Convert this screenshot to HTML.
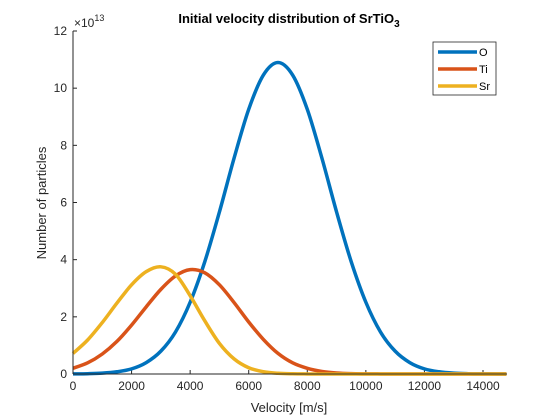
<!DOCTYPE html>
<html><head><meta charset="utf-8"><style>
html,body{margin:0;padding:0;background:#fff;}
svg{display:block;font-family:"Liberation Sans",Arial,sans-serif;}
</style></head><body>
<svg id="chart" width="560" height="420" viewBox="0 0 560 420" xmlns="http://www.w3.org/2000/svg">
<rect width="560" height="420" fill="#fff"/>
<text x="289" y="23" text-anchor="middle" font-size="13" font-weight="bold" fill="#000">Initial velocity distribution of SrTiO<tspan font-size="10" dy="4">3</tspan></text>
<g id="xticks"></g><g id="yticks"></g>
<g id="series"></g>
<line x1="73" y1="374" x2="507" y2="374" stroke="#262626" stroke-width="1"/>
<line x1="73" y1="31" x2="73" y2="374" stroke="#262626" stroke-width="1"/>
<text x="74" y="27" font-size="12" fill="#262626">×10<tspan font-size="9" dy="-6">13</tspan></text>
<text x="289" y="412" text-anchor="middle" font-size="13" fill="#262626">Velocity [m/s]</text>
<text transform="translate(46,203) rotate(-90)" text-anchor="middle" font-size="13" fill="#262626">Number of particles</text>
<g id="legend">
<rect x="433" y="42" width="63" height="53" fill="#fff" stroke="#262626" stroke-width="0.8"/>
</g>
</svg>
<script>
const xs=[0,500,1000,1500,2000,2500,3000,3500,4000,4500,5000,5500,6000,6500,7000,7500,8000,8500,9000,9500,10000,10500,11000,11500,12000,12500,13000,13500,14000,14500,14800];
const oVals=[0.004,0.011,0.03,0.078,0.18,0.40,0.80,1.47,2.51,3.93,5.67,7.55,9.26,10.46,10.9,10.46,9.26,7.55,5.67,3.93,2.51,1.47,0.80,0.40,0.18,0.078,0.03,0.011,0.004,0.001,0.0005];
const tiVals=[0.20,0.39,0.70,1.14,1.71,2.35,2.96,3.43,3.65,3.54,3.12,2.50,1.82,1.21,0.72,0.39,0.20,0.09,0.036,0.013,0.005,0.002,0,0,0,0,0,0,0,0,0];
const srVals=[0.72,1.19,1.80,2.48,3.12,3.58,3.75,3.49,2.74,1.86,1.07,0.53,0.22,0.08,0.025,0.007,0.002,0,0,0,0,0,0,0,0,0,0,0,0,0,0];
const xTicks=[0,2000,4000,6000,8000,10000,12000,14000];
const yTicks=[0,2,4,6,8,10,12];
const seriesNames=["O","Ti","Sr"];
const NS="http://www.w3.org/2000/svg";
function sx(v){return 73+v*(410/14000);}
function sy(v){return 374-v*(343/12);}
function mk(t,a,p){const e=document.createElementNS(NS,t);for(const k in a)e.setAttribute(k,a[k]);p.appendChild(e);return e;}
function smooth(pts){
 let d='M'+pts[0][0].toFixed(2)+' '+pts[0][1].toFixed(2);
 for(let i=0;i<pts.length-1;i++){
  const p0=pts[i-1]||pts[i],p1=pts[i],p2=pts[i+1],p3=pts[i+2]||p2;
  const c1=[p1[0]+(p2[0]-p0[0])/6,p1[1]+(p2[1]-p0[1])/6];
  const c2=[p2[0]-(p3[0]-p1[0])/6,p2[1]-(p3[1]-p1[1])/6];
  d+=' C'+c1[0].toFixed(2)+' '+c1[1].toFixed(2)+' '+c2[0].toFixed(2)+' '+c2[1].toFixed(2)+' '+p2[0].toFixed(2)+' '+p2[1].toFixed(2);
 }
 return d;
}
const xg=document.getElementById('xticks');
xTicks.forEach(t=>{
 const l=mk('line',{x1:sx(t),x2:sx(t),y1:374,y2:370,stroke:'#262626'},xg);
 
 
 const tx=mk('text',{x:sx(t),y:390,'text-anchor':'middle','font-size':'12',fill:'#262626'},xg);
 tx.textContent=t;
 
 
});
const yg=document.getElementById('yticks');
yTicks.forEach(t=>{
 const l=mk('line',{x1:73,x2:77,y1:sy(t),y2:sy(t),stroke:'#262626'},yg);
 
 
 const tx=mk('text',{x:67,y:sy(t)+4,'text-anchor':'end','font-size':'12',fill:'#262626'},yg);
 tx.textContent=t;
 
 
});
const colors=['#0072BD','#D95319','#EDB120'];
const data=[oVals,tiVals,srVals];
const sg=document.getElementById('series');
data.forEach((vals,i)=>{
 const pts=vals.map((v,j)=>[sx(xs[j]),sy(v)]);
 const p=mk('path',{d:smooth(pts),fill:'none',stroke:colors[i],'stroke-width':'3.5','stroke-linejoin':'round'},sg);
 
 
});
const lg=document.getElementById('legend');
seriesNames.forEach((n,i)=>{
 const y=52+i*17;
 const l=mk('line',{x1:438,x2:477,y1:y,y2:y,stroke:colors[i],'stroke-width':'3.5'},lg);
 
 
 const t=mk('text',{x:479,y:y+4,'font-size':'11',fill:'#000'},lg);
 t.textContent=n;
 
 
});
</script>
</body></html>
